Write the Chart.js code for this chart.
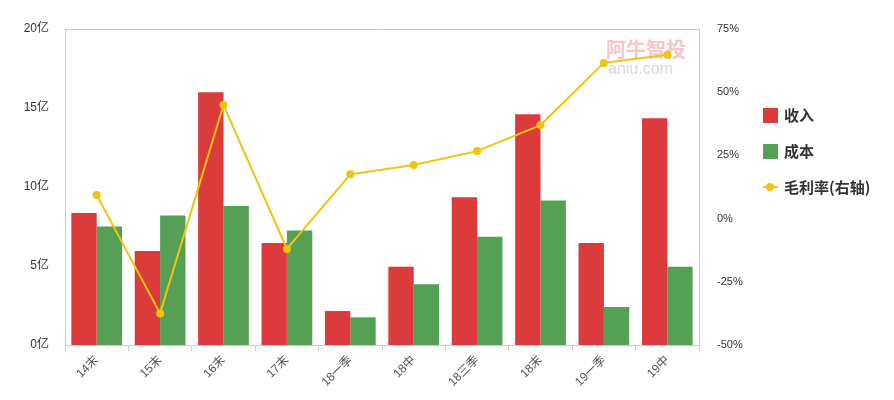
<!DOCTYPE html>
<html>
<head>
<meta charset="utf-8">
<script src="https://cdn.jsdelivr.net/npm/chart.js@4.4.0/dist/chart.umd.min.js"></script>
<style>
    html, body { margin: 0; padding: 0; background: #fff; }
    #box { position: relative; width: 894px; height: 400px; }
    #chart-area { position: absolute; left: 0; top: 0; z-index: 2; }
    .marca { position: absolute; z-index: 1; font-family: "Noto Sans CJK SC", sans-serif; }
    #legenda { position: absolute; left: 763px; top: 104px; z-index: 3;
        font-family: "Noto Sans CJK SC", sans-serif; font-size: 15px; font-weight: bold; color: #333; }
    .item { height: 36px; display: flex; align-items: flex-start; }
    .item span { line-height: 22px; }
    .caixa { width: 15px; height: 15px; margin: 4px 6px 0 0; }
    .linha { position: relative; width: 15px; height: 15px; margin: 4px 6px 0 0; }
    .linha::before { content: ''; position: absolute; left: 0; top: 6px; width: 15px; height: 2px; background: #f0c30f; }
    .linha::after { content: ''; position: absolute; left: 3px; top: 3px; width: 8px; height: 8px; border-radius: 50%; background: #f0c30f; }
</style>
</head>
<body>
<div id="box">
    <div class="marca" style="left:606px; top:34px; font-size:20px; font-weight:bold; color:#f6c6c8; letter-spacing:0px;">阿牛智投</div>
    <div class="marca" style="left:608px; top:60px; font-size:16px; color:#dadada; font-family:'Liberation Sans', sans-serif;">aniu.com</div>
    <canvas id="chart-area" width="894" height="400"></canvas>
    <div id="legenda">
        <div class="item"><div class="caixa" style="background:#dc3b3b"></div><span>收入</span></div>
        <div class="item"><div class="caixa" style="background:#55a055"></div><span>成本</span></div>
        <div class="item"><div class="linha"></div><span>毛利率(右轴)</span></div>
    </div>
</div>
<script>
// dados (valores em 亿 e %)
const periodos = ['14末', '15末', '16末', '17末', '18一季', '18中', '18三季', '18末', '19一季', '19中'];
const receita = [8.35, 5.95, 16.0, 6.45, 2.15, 4.95, 9.35, 14.6, 6.45, 14.35];
const custo = [7.5, 8.2, 8.8, 7.25, 1.75, 3.85, 6.85, 9.15, 2.4, 4.95];
const margem = [9.3, -37.5, 44.9, -12.0, 17.5, 21.2, 26.7, 37.0, 61.6, 64.8];
const ticksEsquerda = [0, 5, 10, 15, 20];
const ticksDireita = [-50, -25, 0, 25, 50, 75];

const corBorda = '#c3ccd8';
const fonte = '"Liberation Sans", "Noto Sans CJK SC", sans-serif';

function gerarGrafico() {
    let config = {
        data: {
            labels: periodos,
            datasets: [{
                type: 'line',
                label: '毛利率(右轴)',
                data: margem,
                yAxisID: 'yR',
                borderColor: '#f0c30f',
                backgroundColor: '#f0c30f',
                borderWidth: 2,
                pointRadius: 4,
                pointBorderWidth: 0,
                tension: 0,
                order: 0
            }, {
                type: 'bar',
                label: '收入',
                data: receita,
                yAxisID: 'y',
                backgroundColor: '#dc3b3b',
                categoryPercentage: 0.8,
                barPercentage: 1.0,
                order: 1
            }, {
                type: 'bar',
                label: '成本',
                data: custo,
                yAxisID: 'y',
                backgroundColor: '#55a055',
                categoryPercentage: 0.8,
                barPercentage: 1.0,
                order: 1
            }]
        },
        options: {
            responsive: false,
            animation: false,
            layout: { padding: { top: 29, right: 135, left: 0, bottom: 0 } },
            plugins: {
                legend: { display: false },
                tooltip: { enabled: false }
            },
            scales: {
                x: {
                    type: 'category',
                    offset: true,
                    grid: { display: true, drawOnChartArea: false, offset: true, tickLength: 6, color: corBorda },
                    border: { color: corBorda },
                    ticks: { minRotation: 45, maxRotation: 45, color: '#555', font: { family: fonte, size: 12 }, padding: 2 },
                    afterFit: s => { s.height = 55; }
                },
                xTop: {
                    type: 'category',
                    position: 'top',
                    labels: periodos,
                    grid: { display: false },
                    border: { color: corBorda },
                    ticks: { display: false },
                    afterFit: s => { s.height = 0; }
                },
                y: {
                    position: 'left',
                    min: 0,
                    max: 20,
                    afterBuildTicks: s => { s.ticks = ticksEsquerda.map(v => ({ value: v })); },
                    grid: { display: false, drawTicks: false },
                    border: { color: corBorda },
                    ticks: { color: '#333', font: { family: fonte, size: 12 }, padding: 16, callback: v => v + '亿' },
                    afterFit: s => { s.width = 65; }
                },
                yR: {
                    position: 'right',
                    min: -50,
                    max: 75,
                    afterBuildTicks: s => { s.ticks = ticksDireita.map(v => ({ value: v })); },
                    grid: { display: false, drawTicks: false },
                    border: { color: corBorda },
                    ticks: { color: '#333', font: { family: fonte, size: 11 }, padding: 18, callback: v => v + '%' },
                    afterFit: s => { s.width = 60; }
                }
            }
        }
    };

    let ctx = document.getElementById('chart-area').getContext('2d');
    window.myChart = new Chart(ctx, config);
}

gerarGrafico();
</script>
</body>
</html>
